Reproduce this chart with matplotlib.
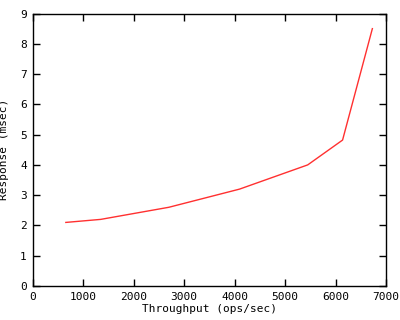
import matplotlib
matplotlib.use("Agg")
import matplotlib.pyplot as plt

throughput = [660, 1350, 2700, 4100, 5450, 6140, 6730]
response = [2.1, 2.2, 2.6, 3.2, 4.0, 4.82, 8.5]
xticks = [0, 1000, 2000, 3000, 4000, 5000, 6000, 7000]
yticks = [0, 1, 2, 3, 4, 5, 6, 7, 8, 9]

plt.rcParams.update({
    "font.family": "DejaVu Sans Mono",
    "font.size": 8,
})

fig = plt.figure(figsize=(4.0, 3.2), dpi=100)
ax = fig.add_axes([32.5 / 400, 1 - 286 / 320, (386 - 32.5) / 400, (286 - 13.5) / 320])
ax.plot(throughput, response, color="#ff3030", lw=1)
ax.set_xlim(0, 7000)
ax.set_ylim(0, 9)
ax.set_xticks(xticks)
ax.set_yticks(yticks)
ax.tick_params(direction="in", top=True, right=True, length=5, width=1, pad=4)
for s in ax.spines.values():
    s.set_linewidth(1)
ax.set_xlabel("Throughput (ops/sec)", labelpad=1.5)
ax.set_ylabel("Response (msec)", labelpad=8)
fig.savefig("out.png", dpi=100)
